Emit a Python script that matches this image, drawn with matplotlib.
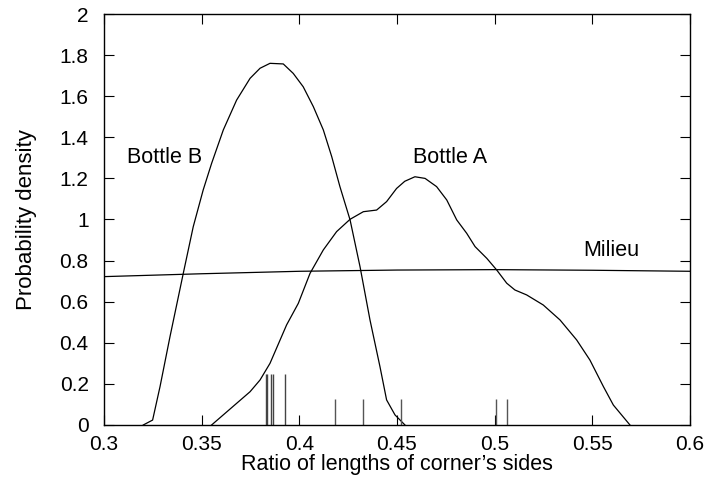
#!/usr/bin/env python3
"""Density of corner side-length ratios for two bottles vs the milieu."""

import matplotlib
matplotlib.use("Agg")
import matplotlib.pyplot as plt

plt.rcParams["font.family"] = ["Liberation Sans", "DejaVu Sans"]

# Bottle B density
bottle_b_x = [0.3201, 0.3249, 0.3287, 0.3338, 0.3406, 0.3457, 0.3508, 0.3551,
              0.3611, 0.3679, 0.3748, 0.3799, 0.3850, 0.3918, 0.3969, 0.4020,
              0.4072, 0.4123, 0.4166, 0.4208, 0.4260, 0.4311, 0.4362, 0.4413,
              0.4447, 0.4490, 0.4541]
bottle_b_y = [0.0, 0.024, 0.187, 0.43, 0.738, 0.965, 1.144, 1.273,
              1.436, 1.581, 1.687, 1.736, 1.760, 1.757, 1.711, 1.646,
              1.549, 1.436, 1.306, 1.160, 0.998, 0.770, 0.511, 0.284,
              0.122, 0.049, 0.0]

# Bottle A density
bottle_a_x = [0.3551, 0.3748, 0.3799, 0.3850, 0.3935, 0.3995, 0.4055, 0.4123,
              0.4191, 0.4260, 0.4328, 0.4396, 0.4447, 0.4498, 0.4540, 0.4592,
              0.4644, 0.4703, 0.4755, 0.4806, 0.4857, 0.4900, 0.4960, 0.5011,
              0.5062, 0.5104, 0.5164, 0.5249, 0.5335, 0.5420, 0.5488, 0.5557,
              0.5608, 0.5693]
bottle_a_y = [0.0, 0.162, 0.219, 0.30, 0.487, 0.592, 0.738, 0.852,
              0.941, 1.001, 1.038, 1.046, 1.087, 1.151, 1.186, 1.208,
              1.200, 1.160, 1.095, 0.998, 0.933, 0.868, 0.811, 0.754,
              0.690, 0.657, 0.633, 0.584, 0.511, 0.414, 0.316, 0.187,
              0.097, 0.0]

# Milieu density (broad, nearly flat)
milieu_x = [0.30, 0.35, 0.40, 0.45, 0.50, 0.55, 0.60]
milieu_y = [0.722, 0.736, 0.748, 0.754, 0.756, 0.753, 0.748]

# observed samples shown as rug marks
samples_b = [0.3829, 0.3836, 0.3853, 0.3864, 0.3927]
samples_a = [0.4183, 0.4328, 0.4521, 0.5005, 0.5066]


def main():
    fig = plt.figure(figsize=(7.04, 4.83), dpi=100)
    ax = fig.add_axes([0.1477, 0.1201, 0.8323, 0.8509])

    ax.plot(bottle_b_x, bottle_b_y, color="black", lw=0.9)
    ax.plot(bottle_a_x, bottle_a_y, color="black", lw=0.9)
    ax.plot(milieu_x, milieu_y, color="black", lw=0.9)

    ax.vlines(samples_b, 0, 0.25, color="#444444", lw=1.0)
    ax.vlines(samples_a, 0, 0.125, color="#555555", lw=1.0)

    ax.text(0.3312, 1.30, "Bottle B", fontsize=15.5, ha="center", va="center")
    ax.text(0.4772, 1.30, "Bottle A", fontsize=15.5, ha="center", va="center")
    ax.text(0.5596, 0.85, "Milieu", fontsize=15.5, ha="center", va="center")

    ax.set_xlim(0.3, 0.6)
    ax.set_ylim(0, 2)
    ax.set_xticks([0.3, 0.35, 0.4, 0.45, 0.5, 0.55, 0.6])
    ax.set_xticklabels(["0.3", "0.35", "0.4", "0.45", "0.5", "0.55", "0.6"])
    ax.set_yticks([0, 0.2, 0.4, 0.6, 0.8, 1, 1.2, 1.4, 1.6, 1.8, 2])
    ax.set_yticklabels(["0", "0.2", "0.4", "0.6", "0.8", "1", "1.2", "1.4",
                        "1.6", "1.8", "2"])
    ax.tick_params(direction="in", length=7, width=0.8, top=True, right=True,
                   labelsize=15)
    ax.tick_params(axis="y", pad=11)
    ax.tick_params(axis="x", pad=7)
    for s in ax.spines.values():
        s.set_linewidth(1.0)

    ax.set_xlabel("Ratio of lengths of corner\u2019s sides", fontsize=15.5, labelpad=0)
    ax.set_ylabel("Probability density", fontsize=16, labelpad=16)

    fig.savefig("out.png", dpi=100)
    plt.close(fig)


if __name__ == "__main__":
    main()
